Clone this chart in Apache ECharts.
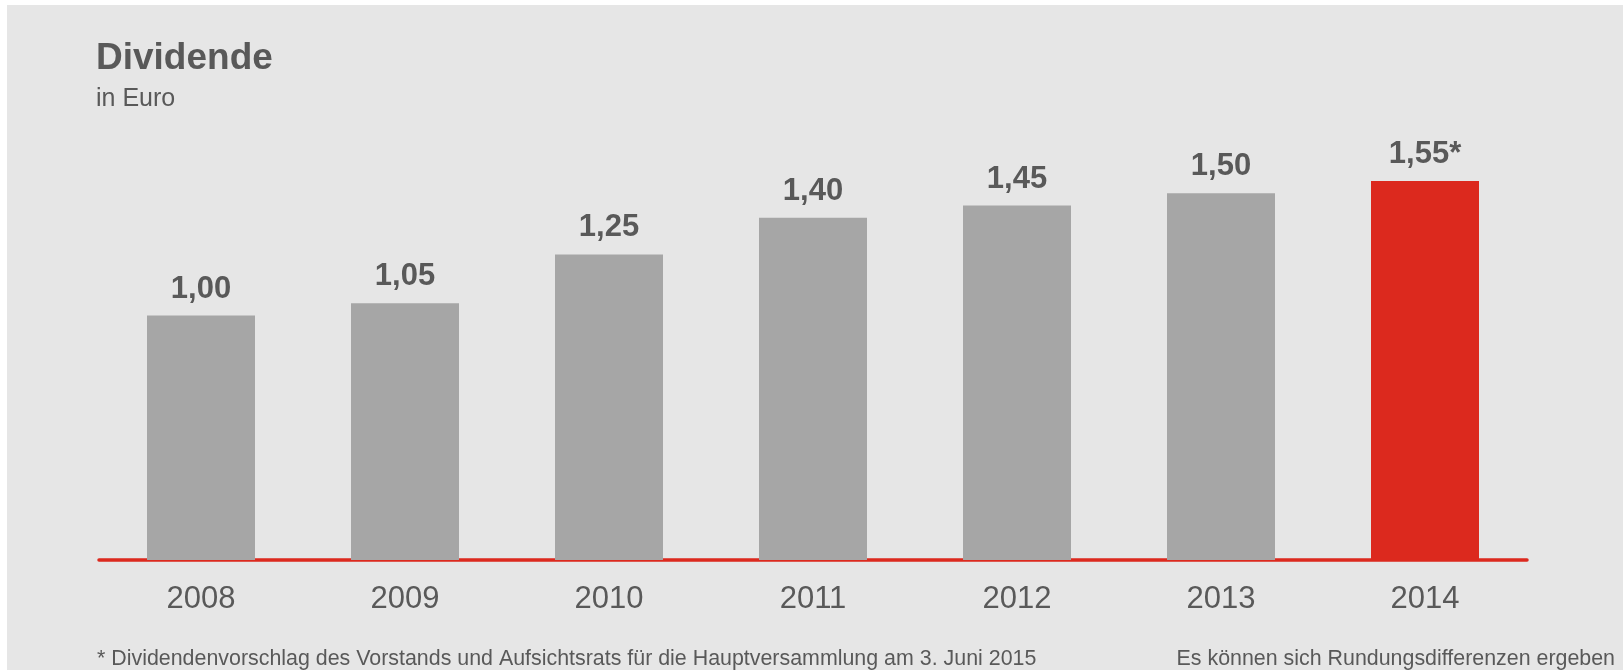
<!DOCTYPE html>
<html>
<head>
<meta charset="utf-8">
<script src="https://cdn.jsdelivr.net/npm/echarts@6/dist/echarts.min.js"></script>
<style>
  html, body { margin: 0; padding: 0; background: #ffffff; }
  #chart { width: 1623px; height: 670px; }
</style>
</head>
<body>
<div id="chart"></div>
<script>
// Data
const years = ['2008', '2009', '2010', '2011', '2012', '2013', '2014'];
const dividends = [1.00, 1.05, 1.25, 1.40, 1.45, 1.50, 1.55];
const valueLabels = ['1,00', '1,05', '1,25', '1,40', '1,45', '1,50', '1,55*'];
const highlightIndex = 6;

const GRAY_BG = '#e6e6e6';
const BAR_GRAY = '#a6a6a6';
const RED = '#dc291e';
const TEXT = '#595959';
const FONT = '"Liberation Sans", Arial, Helvetica, sans-serif';

const chart = echarts.init(document.getElementById('chart'), null, { renderer: 'canvas' });

const seriesData = dividends.map((v, i) => ({
  value: v,
  itemStyle: { color: i === highlightIndex ? RED : BAR_GRAY }
}));

chart.setOption({
  backgroundColor: '#ffffff',
  animation: false,
  graphic: [{
    type: 'rect',
    z: -10,
    silent: true,
    shape: { x: 7, y: 5, width: 1623, height: 670 },
    style: { fill: GRAY_BG }
  }],
  title: [
    { text: 'Dividende', left: 96, top: 40, padding: 0,
      textStyle: { fontFamily: FONT, fontSize: 37, fontWeight: 'bold', color: TEXT } },
    { text: 'in Euro', left: 96, top: 87, padding: 0,
      textStyle: { fontFamily: FONT, fontSize: 25, fontWeight: 'normal', color: TEXT } },
    { text: '* Dividendenvorschlag des Vorstands und Aufsichtsrats für die Hauptversammlung am 3. Juni 2015', left: 97, top: 649, padding: 0,
      textStyle: { fontFamily: FONT, fontSize: 21.4, fontWeight: 'normal', color: TEXT } },
    { text: 'Es können sich Rundungsdifferenzen ergeben', right: 8, top: 649, padding: 0,
      textStyle: { fontFamily: FONT, fontSize: 21.4, fontWeight: 'normal', color: TEXT } }
  ],
  grid: { left: 99, right: 96, top: 71, bottom: 110, containLabel: false },
  xAxis: {
    type: 'category',
    data: years,
    axisLine: { show: true, lineStyle: { color: RED, width: 3.5 } },
    axisTick: { show: false },
    axisLabel: { color: TEXT, fontFamily: FONT, fontSize: 31, margin: 24 },
    splitLine: { show: false }
  },
  yAxis: {
    type: 'value',
    min: 0,
    max: 2,
    show: false,
    splitLine: { show: false }
  },
  series: [{
    type: 'bar',
    data: seriesData,
    barWidth: 108,
    label: {
      show: true,
      position: 'top',
      distance: 11,
      color: TEXT,
      fontFamily: FONT,
      fontSize: 31,
      fontWeight: 'bold',
      formatter: (p) => valueLabels[p.dataIndex]
    }
  }]
});
</script>
</body>
</html>
